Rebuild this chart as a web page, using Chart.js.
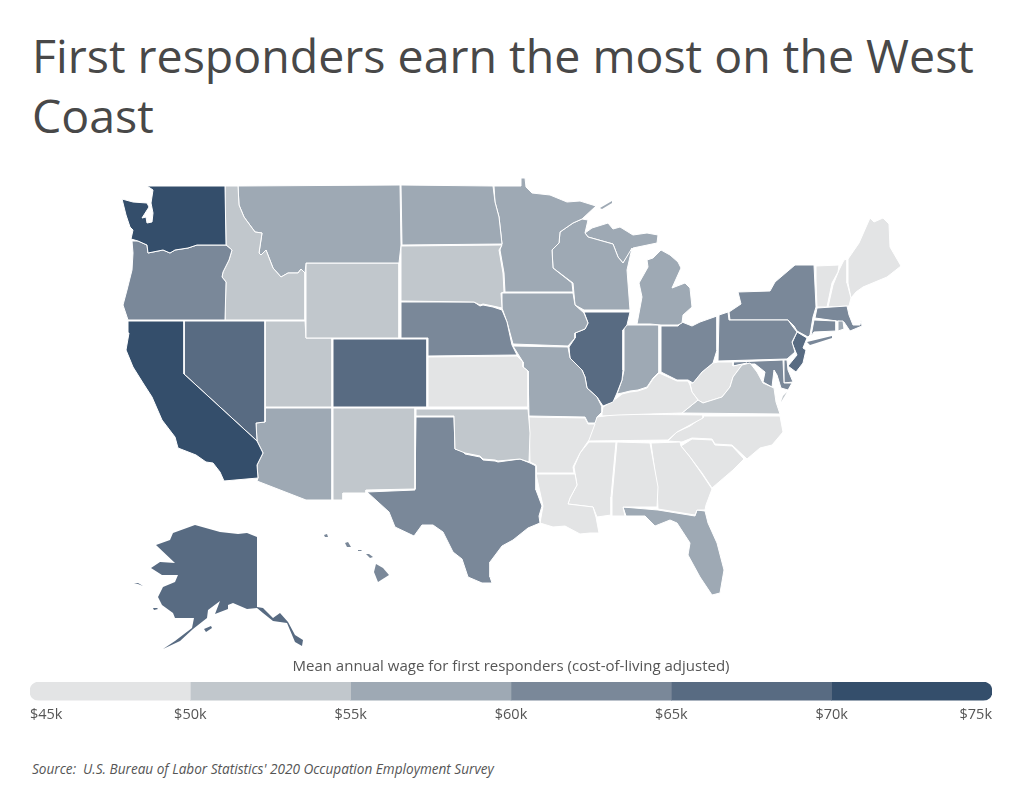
<!DOCTYPE html>
<html>
<head>
<meta charset="utf-8">
<title>First responders earn the most on the West Coast</title>
<script src="https://cdn.jsdelivr.net/npm/chart.js@4"></script>
<style>
    body { margin: 0; background: #fff; width: 1024px; height: 786px; position: relative; overflow: hidden; font-family: "Open Sans", sans-serif; }
    h1 { position: absolute; left: 32px; top: 25px; width: 980px; margin: 0; font-size: 46.5px; line-height: 60px; font-weight: 400; color: #484848; }
    #source { position: absolute; left: 32px; top: 759px; font-size: 13.6px; font-style: italic; color: #555; white-space: pre; }
    #mapChart { position: absolute; left: 100px; top: 170px; }
    #scaleChart { position: absolute; left: 0; top: 654px; }
</style>
</head>
<body>
<h1>First responders earn the most on the West Coast</h1>
<canvas id="mapChart" width="820" height="490"></canvas>
<canvas id="scaleChart" width="1024" height="76"></canvas>
<div id="source">Source:  U.S. Bureau of Labor Statistics' 2020 Occupation Employment Survey</div>

<script>
// --- DATA ---
const scaleTitle = 'Mean annual wage for first responders (cost-of-living adjusted)';
const wageBreaks = [45, 50, 55, 60, 65, 70, 75];
const wageColors = ['#e3e4e5', '#c1c7cc', '#9ea9b4', '#7a8899', '#586b82', '#344e6b'];

// wage per state, in $k, estimated from the colour band of each state
const stateNames = ['WA','OR','CA','NV','ID','MT','WY','UT','CO','AZ','NM','ND','SD','NE','KS','OK','TX','MN','IA','MO','AR','LA','WI','IL','MI','IN','OH','KY','TN','MS','AL','GA','FL','SC','NC','VA','WV','PA','NY','NJ','MD','DE','CT','RI','MA','VT','NH','ME','AK','HI'];
const stateWages = [72.5,62,72,67,52,57,53,53,67,57,53,57,53,62,48,52,62,58,57,56,47,47,57,67,57,56,62,48,48,46,47,48,56,47,48,53,48,62,63,68,63,62,62,57,62,48,48,47,67,61];

// map outlines, each state is a list of closed parts in map units
const stateOutlines = [
  [[[147,186],[225,186],[226,245],[197,245],[188,248],[175,250],[170,253],[163,250],[148,253],[147,245],[138,241],[131,239],[133,230],[130,227],[126,215],[122,199],[133,202],[147,203],[149,207],[142,218],[146,217],[147,223],[152,222],[153,213],[151,203],[153,190]]],
  [[[132,241],[138,241],[147,245],[148,253],[163,250],[170,253],[175,250],[188,248],[197,245],[226,245],[232,250],[229,260],[223,272],[222,277],[226,282],[225,320],[128,320],[123,305],[127,290],[132,270],[133,253]]],
  [[[128,321],[184,321],[184,374],[257,441],[263,453],[257,465],[258,478],[224,481],[220,472],[213,463],[206,462],[196,455],[178,448],[175,437],[162,420],[152,397],[143,383],[133,367],[126,350],[129,333]]],
  [[[184,321],[265,321],[265,422],[256,423],[257,441],[184,374]]],
  [[[225,186],[238,186],[239,205],[244,217],[255,232],[262,233],[259,253],[261,255],[266,250],[273,268],[281,277],[288,273],[298,273],[301,269],[305,273],[305,320],[225,320],[226,282],[222,277],[223,272],[229,260],[232,250],[226,245]]],
  [[[238,186],[400,185],[401,245],[399,263],[306,263],[305,273],[301,269],[298,273],[288,273],[281,277],[273,268],[266,250],[261,255],[259,253],[262,233],[255,232],[244,217],[239,205]]],
  [[[306,263],[399,263],[399,338],[306,338]]],
  [[[265,321],[305,321],[306,338],[332,338],[332,407],[265,407]]],
  [[[333,339],[427,339],[427,407],[333,407]]],
  [[[265,408],[332,408],[332,500],[306,500],[257,481],[258,478],[257,465],[263,453],[257,441],[256,423],[265,422]]],
  [[[333,408],[415,408],[415,489],[366,490],[366,493],[343,493],[343,500],[333,500]]],
  [[[401,185],[493,186],[495,202],[499,217],[502,244],[402,245]]],
  [[[401,246],[502,245],[499,250],[503,273],[504,292],[501,293],[502,308],[493,306],[483,304],[480,305],[474,302],[401,301]]],
  [[[401,302],[474,302],[480,306],[483,305],[493,307],[502,310],[507,322],[512,345],[517,355],[428,356],[428,338],[401,338]]],
  [[[428,357],[517,356],[523,362],[523,367],[528,371],[528,407],[428,407]]],
  [[[416,409],[528,409],[530,433],[529,462],[520,459],[498,461],[495,460],[483,459],[480,456],[465,453],[455,449],[454,416],[416,416]]],
  [[[416,417],[454,417],[455,449],[463,451],[465,454],[480,457],[483,460],[495,461],[498,462],[520,459],[530,463],[536,466],[536,490],[542,506],[539,516],[540,523],[528,528],[513,540],[502,546],[490,562],[490,577],[492,583],[482,583],[468,577],[462,559],[453,552],[443,532],[433,525],[422,525],[414,536],[395,527],[389,512],[367,492],[415,490]]],
  [[[494,186],[521,186],[521,178],[525,178],[526,187],[532,193],[550,195],[567,202],[580,201],[596,206],[582,219],[573,223],[560,232],[559,243],[552,250],[553,268],[572,283],[573,292],[505,292],[504,273],[500,250],[502,244],[499,217],[495,202]]],
  [[[502,293],[573,293],[575,305],[584,313],[588,323],[585,329],[575,333],[575,338],[568,346],[513,344],[507,322],[502,308]]],
  [[[513,346],[568,347],[570,358],[582,370],[585,377],[587,388],[597,397],[602,407],[602,412],[597,417],[595,423],[588,423],[585,417],[529,416],[528,371],[523,367],[523,362]]],
  [[[529,417],[585,418],[588,424],[595,424],[589,440],[580,453],[573,467],[574,473],[536,473],[536,465],[530,462]]],
  [[[536,474],[575,474],[577,485],[570,498],[568,504],[593,507],[596,517],[599,533],[590,533],[580,534],[565,526],[553,527],[540,523],[543,506]]],
  [[[588,220],[585,233],[588,237],[613,244],[618,257],[623,263],[632,248],[627,270],[630,310],[584,310],[575,305],[573,283],[553,268],[552,250],[559,243],[560,232],[573,223],[582,219]]],
  [[[584,312],[630,312],[627,325],[623,330],[623,370],[622,380],[617,393],[613,402],[603,406],[597,397],[587,388],[585,377],[582,370],[570,358],[569,347],[575,338],[575,333],[585,329],[588,323]]],
  [[[585,233],[592,228],[608,223],[613,229],[620,227],[633,235],[647,233],[658,235],[657,243],[633,248],[623,263],[618,257],[613,244],[588,237]],
   [[661,250],[670,255],[678,262],[681,268],[672,288],[685,283],[690,288],[692,307],[683,315],[682,323],[678,325],[661,325],[650,324],[637,324],[642,297],[639,283],[648,267],[647,260],[653,258]],
   [[600,208],[612,201],[612,203],[602,209]]],
  [[[624,325],[659,325],[659,372],[653,378],[647,387],[638,390],[630,391],[622,393],[617,394],[622,380],[624,370]]],
  [[[661,326],[678,326],[682,322],[692,326],[700,322],[717,316],[717,350],[713,363],[702,372],[693,383],[688,380],[677,380],[661,372]]],
  [[[602,413],[603,407],[617,398],[622,394],[630,392],[638,391],[647,388],[653,379],[659,373],[677,381],[688,381],[690,385],[692,392],[698,400],[682,413],[618,415],[602,416]]],
  [[[597,417],[617,414],[703,415],[703,418],[690,425],[677,432],[668,440],[588,441],[593,427]]],
  [[[589,442],[616,442],[611,497],[611,515],[597,517],[593,507],[568,504],[570,498],[577,485],[574,467],[580,453]]],
  [[[617,442],[650,443],[658,487],[657,507],[623,507],[625,516],[612,516],[612,497]]],
  [[[651,443],[680,442],[681,446],[690,457],[702,474],[712,489],[706,505],[705,510],[697,510],[695,515],[658,509],[657,487]]],
  [[[623,507],[658,510],[695,516],[697,510],[705,511],[708,523],[717,543],[724,570],[720,593],[712,595],[700,577],[688,555],[690,543],[677,523],[670,520],[655,526],[645,516],[626,516]]],
  [[[681,446],[692,439],[712,440],[715,445],[732,446],[744,459],[733,470],[712,488],[702,473],[690,457]]],
  [[[704,416],[780,416],[783,432],[772,445],[760,448],[747,459],[732,445],[715,444],[712,439],[692,438],[682,442],[668,441],[677,432],[690,426]]],
  [[[682,413],[698,400],[703,403],[722,397],[730,387],[733,377],[742,365],[750,363],[757,372],[763,383],[774,388],[776,402],[780,414]],
   [[787,392],[781,402],[783,396]]],
  [[[690,383],[693,383],[702,372],[713,363],[718,362],[733,362],[733,366],[747,363],[742,365],[733,377],[730,387],[722,397],[703,403],[698,400],[692,392]]],
  [[[719,315],[728,312],[729,320],[788,320],[793,327],[797,332],[792,342],[795,352],[787,359],[718,361]]],
  [[[730,320],[729,312],[741,304],[738,292],[770,291],[775,282],[795,265],[814,265],[816,307],[813,317],[810,335],[808,337],[797,331],[794,326],[788,320]],
   [[807,342],[832,336],[832,338],[810,345]]],
  [[[797,332],[807,338],[803,348],[806,350],[803,363],[796,372],[788,366],[797,355],[792,343]]],
  [[[733,362],[783,360],[784,383],[792,383],[788,390],[781,388],[777,375],[774,370],[772,387],[763,382],[765,372],[755,364],[746,364],[733,366]]],
  [[[784,360],[787,360],[788,370],[793,382],[784,383]]],
  [[[814,320],[836,321],[836,331],[814,332],[811,336]]],
  [[[838,321],[843,321],[844,329],[838,331]]],
  [[[817,308],[847,306],[849,315],[853,325],[860,325],[861,320],[862,326],[850,331],[844,322],[815,318]]],
  [[[816,266],[839,265],[838,272],[832,283],[827,307],[817,307],[816,280]]],
  [[[844,260],[847,259],[847,283],[851,298],[849,306],[828,307],[833,285],[839,270]]],
  [[[848,259],[859,243],[870,218],[874,222],[883,218],[889,224],[890,247],[901,266],[887,277],[863,287],[856,292],[851,298],[848,283]]],
  [[[257,537],[257,607],[263,608],[273,618],[280,613],[288,622],[295,635],[303,640],[302,646],[295,642],[287,623],[273,621],[263,613],[257,608],[247,609],[233,603],[228,605],[228,609],[215,614],[220,601],[208,610],[207,618],[193,629],[180,641],[163,649],[175,641],[192,628],[194,618],[175,618],[173,613],[162,605],[158,597],[163,587],[175,582],[178,575],[162,575],[151,568],[160,562],[175,563],[156,545],[170,540],[173,533],[195,525],[220,532],[238,534],[247,533]],
   [[204,629],[211,626],[212,628],[206,632]],
   [[134,583],[138,583],[143,586],[138,584]],
   [[153,608],[157,608],[158,609],[154,610]]],
  [[[324,535],[327,534],[328,537],[325,537]],
   [[345,543],[348,542],[351,547],[347,547]],
   [[358,550],[361,550],[362,551],[358,551]],
   [[366,554],[369,554],[373,557],[370,558]],
   [[376,564],[383,568],[389,575],[378,582],[374,572]]]
];

// --- MAP ---
function colorForWage(wage) {
    const band = wageBreaks.findIndex((b, i) => wage >= b && wage < wageBreaks[i + 1]);
    return wageColors[band];
}

const mapDatasets = [];
stateNames.forEach((name, i) => {
    stateOutlines[i].forEach((part, partIndex) => {
        const points = part.concat([part[0]]).map(p => ({ x: p[0], y: p[1] }));
        // islands and detached bits would vanish under a white stroke
        const noStroke = name === 'AK' || name === 'HI' || (partIndex > 0 && part.length < 6);
        mapDatasets.push({
            label: name,
            data: points,
            showLine: true,
            fill: 'shape',
            tension: 0,
            pointRadius: 0,
            backgroundColor: colorForWage(stateWages[i]),
            borderColor: '#ffffff',
            borderWidth: noStroke ? 0 : 1,
            borderJoinStyle: 'round'
        });
    });
});

new Chart(document.getElementById('mapChart'), {
    type: 'scatter',
    data: { datasets: mapDatasets },
    options: {
        responsive: false,
        animation: false,
        layout: { padding: 0 },
        plugins: { legend: { display: false }, tooltip: { enabled: false } },
        scales: {
            x: { type: 'linear', display: false, min: 100, max: 920 },
            y: { type: 'linear', display: false, min: 170, max: 660, reverse: true }
        }
    }
});

// --- COLOUR SCALE ---
const scaleDatasets = wageColors.map((color, i) => {
    const last = wageColors.length - 1;
    return {
        data: [[wageBreaks[i], wageBreaks[i + 1]]],
        backgroundColor: color,
        borderSkipped: false,
        borderRadius: {
            topLeft: i === 0 ? 9 : 0,
            bottomLeft: i === 0 ? 9 : 0,
            topRight: i === last ? 9 : 0,
            bottomRight: i === last ? 9 : 0
        }
    };
});

new Chart(document.getElementById('scaleChart'), {
    type: 'bar',
    data: { labels: ['wage'], datasets: scaleDatasets },
    options: {
        indexAxis: 'y',
        responsive: false,
        animation: false,
        grouped: false,
        barPercentage: 1,
        categoryPercentage: 1,
        layout: { padding: { left: 30, right: 32, top: 0, bottom: 0 } },
        plugins: {
            legend: { display: false },
            tooltip: { enabled: false },
            title: {
                display: true,
                text: scaleTitle,
                color: '#555',
                font: { family: 'Open Sans', size: 15, weight: 'normal' },
                padding: { top: 4, bottom: 6 }
            }
        },
        scales: {
            y: { display: false },
            x: {
                type: 'linear',
                min: 45,
                max: 75,
                grid: { display: false, drawTicks: false },
                border: { display: false },
                ticks: {
                    stepSize: 5,
                    align: 'inner',
                    maxRotation: 0,
                    padding: 6,
                    color: '#555',
                    font: { family: 'Open Sans', size: 14.5 },
                    callback: v => '$' + v + 'k'
                }
            }
        }
    }
});
</script>
</body>
</html>
